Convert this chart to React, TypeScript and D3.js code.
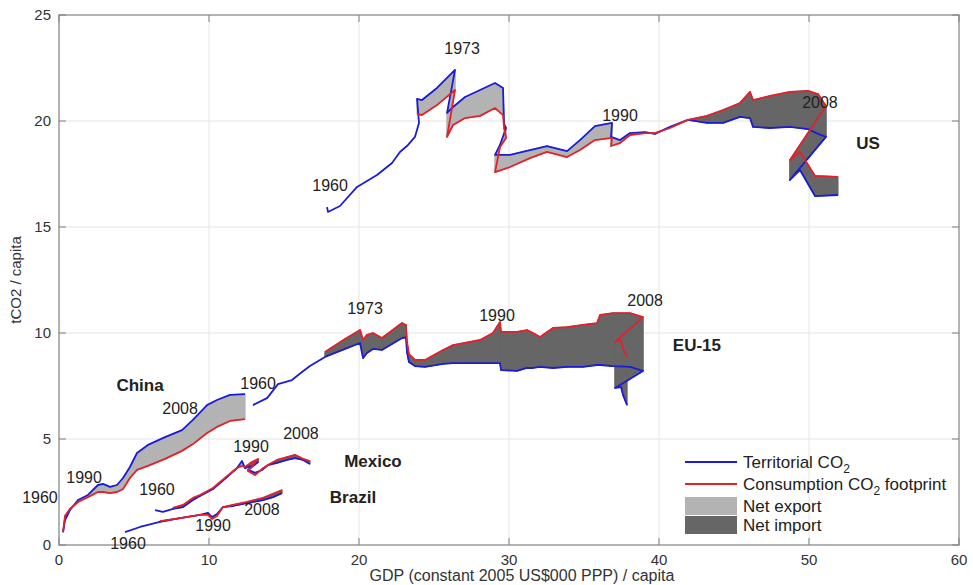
import React from 'react';
import * as d3 from 'd3';

// axis ticks
const xTicks = [0, 10, 20, 30, 40, 50, 60];
const yTicks = [0, 5, 10, 15, 20, 25];

// US: GDP (k$), territorial and consumption tCO2 per capita
const usGdp = [17.87, 17.93, 18.73, 19.87, 21.2, 22.2, 22.73, 23.27, 23.73, 24.0,
  23.87, 24.2, 25.2, 26.4, 25.87, 26.27, 27.07, 28.07, 29.07, 29.6, 29.67, 29.8, 29.4, 29.07, 30.07,
  31.4, 32.53, 33.87, 34.73, 35.73, 36.87, 36.8, 37.4, 38.07, 39.07, 39.73, 40.73, 41.93, 43.2, 44.27,
  45.4, 46.07, 46.27, 47.4, 48.73, 49.93, 50.6, 51.13, 48.73, 49.4, 50.4, 51.93];
const usTerr = [15.94, 15.71, 15.99, 16.89, 17.45, 18.02, 18.54, 18.87, 19.25, 19.91,
  21.04, 20.99, 21.56, 22.41, 20.38, 20.66, 21.13, 21.46, 21.79, 21.56, 19.86, 19.67, 18.87, 18.4, 18.4,
  18.63, 18.82, 18.58, 19.1, 19.76, 19.91, 19.25, 19.1, 19.43, 19.48, 19.39, 19.72, 20.05, 19.91, 19.91,
  20.19, 20.14, 19.72, 19.67, 19.72, 19.62, 19.39, 19.25, 17.22, 17.69, 16.46, 16.51];
const usCons = [null, null, null, null, null, null, null, null, null, null,
  20.33, 20.28, 20.75, 21.46, 19.25, 19.81, 20.14, 20.24, 20.61, 20.28, 19.67, 19.2, 18.77, 17.59, 17.83,
  18.25, 18.54, 18.3, 18.63, 19.1, 19.2, 18.82, 18.96, 19.34, 19.43, 19.43, 19.67, 20.05, 20.24, 20.52,
  20.85, 21.37, 20.99, 21.18, 21.37, 21.42, 21.27, 20.71, 18.16, 18.54, 17.41, 17.36];

// EU-15
const euGdp = [12.93, 13.87, 14.6, 15.53, 16.2, 16.73, 17.4,
  17.73, 19.07, 20.07, 20.27, 20.53, 20.93, 21.53, 22.87, 23.13, 23.2, 23.33, 23.73, 24.4, 25.6, 26.27,
  28.07, 28.93, 29.4, 29.47, 30.53, 31.2, 31.6, 32.07, 32.93, 33.87, 34.93, 35.87, 36.07, 36.93, 38.07,
  38.93, 37.07, 37.47, 37.6, 37.87];
const euTerr = [6.6, 6.93, 7.59, 7.78, 8.16, 8.44, 8.73,
  8.87, 9.25, 9.53, 8.82, 9.06, 9.25, 9.2, 9.76, 9.81, 9.1, 8.63, 8.44, 8.4, 8.54, 8.58,
  8.58, 8.58, 8.58, 8.25, 8.21, 8.35, 8.35, 8.4, 8.35, 8.4, 8.4, 8.49, 8.49, 8.44, 8.4,
  8.21, 7.41, 7.45, 7.08, 6.6];
const euCons = [null, null, null, null, null, null, null,
  9.1, 9.72, 10.14, 9.67, 9.91, 10.0, 9.76, 10.47, 10.38, 9.58, 9.0, 8.73, 8.73, 9.2, 9.43,
  9.67, 10.0, 10.52, 10.05, 10.05, 10.14, 10.0, 9.81, 10.24, 10.28, 10.38, 10.47, 10.85, 10.94, 10.94,
  10.75, 9.58, 9.67, 9.25, 8.87];

// China
const cnGdp = [0.27, 0.4, 0.73, 1.27, 1.93, 2.6, 2.93, 3.4, 3.87, 4.27, 4.73, 5.2, 5.93, 7.07, 8.2, 8.93, 9.87, 10.53, 11.4, 12.4];
const cnTerr = [0.61, 1.18, 1.65, 2.12, 2.36, 2.83, 2.88, 2.74, 2.83, 3.16, 3.68, 4.34, 4.72, 5.09, 5.42, 5.9, 6.6, 6.84, 7.08, 7.12];
const cnCons = [0.61, 1.37, 1.7, 2.03, 2.26, 2.5, 2.5, 2.45, 2.5, 2.64, 3.16, 3.54, 3.73, 4.06, 4.44, 4.76, 5.28, 5.57, 5.85, 5.94];

// Mexico
const mxGdp = [6.4, 6.93, 7.6, 8.27, 8.93, 9.4, 10.27, 11.2, 11.87, 12.2, 12.4, 12.87, 13.27, 12.6, 13.07, 13.53, 13.93, 14.53, 15.2, 15.73, 16.27, 16.73];
const mxTerr = [1.65, 1.56, 1.7, 1.79, 2.12, 2.31, 2.64, 3.21, 3.63, 3.96, 3.63, 3.73, 3.91, 3.54, 3.4, 3.54, 3.77, 3.87, 4.01, 4.1, 4.01, 3.82];
const mxCons = [null, null, 1.75, 1.89, 2.22, 2.36, 2.69, 3.25, 3.63, 3.73, 3.68, 3.91, 4.06, 3.49, 3.3, 3.58, 3.77, 4.01, 4.15, 4.25, 4.06, 3.96];

// Brazil
const brGdp = [4.4, 5.4, 6.73, 8.07, 9.4, 9.93, 10.2, 10.53, 10.93, 11.6, 12.53, 13.6, 14.27, 14.87];
const brTerr = [0.61, 0.85, 1.09, 1.27, 1.42, 1.51, 1.32, 1.46, 1.79, 1.84, 1.98, 2.12, 2.26, 2.45];
const brCons = [null, null, 1.13, 1.27, 1.42, 1.42, 1.23, 1.37, 1.79, 1.89, 2.03, 2.22, 2.41, 2.59];

// annotations: [text, gdp, tCO2, bold]
const labels: [string, number, number, boolean][] = [
  ['1960', 18.07, 16.98, false], ['1973', 26.87, 23.44, false], ['1990', 37.4, 20.28, false],
  ['2008', 50.73, 20.9, false], ['US', 53.93, 18.96, true],
  ['1960', 13.27, 7.64, false], ['1973', 20.4, 11.18, false], ['1990', 29.2, 10.85, false],
  ['2008', 39.07, 11.56, false], ['EU-15', 42.53, 9.43, true],
  ['China', 5.4, 7.55, true], ['2008', 8.07, 6.42, false], ['1990', 1.67, 3.21, false], ['1960', -1.27, 2.26, false],
  ['1990', 12.8, 4.67, false], ['2008', 16.13, 5.28, false], ['Mexico', 20.93, 3.96, true], ['1960', 6.53, 2.64, false],
  ['2008', 13.53, 1.7, false], ['1990', 10.27, 0.94, false], ['Brazil', 19.6, 2.26, true], ['1960', 4.6, 0.09, false],
];

const BLUE = '#1c1cd6';
const RED = '#e3212b';
const EXPORT = '#b3b3b3';
const IMPORT = '#666666';
const FONT = 'Liberation Sans, Arial, sans-serif';

type Pt = { g: number; t: number; c: number | null };

const build = (g: number[], t: number[], c: (number | null)[]): Pt[] =>
  g.map((v, i) => ({ g: v, t: t[i], c: c[i] }));

const countries = [
  build(usGdp, usTerr, usCons),
  build(euGdp, euTerr, euCons),
  build(cnGdp, cnTerr, cnCons),
  build(mxGdp, mxTerr, mxCons),
  build(brGdp, brTerr, brCons),
];

// split the area between the two curves into per-year bands
function bands(pts: Pt[]) {
  const out: { p: [number, number][]; exp: boolean }[] = [];
  for (let i = 0; i < pts.length - 1; i++) {
    const a = pts[i], b = pts[i + 1];
    if (a.c == null || b.c == null) continue;
    const da = a.t - a.c, db = b.t - b.c;
    if (da * db < 0) {
      const f = da / (da - db);
      const pg = a.g + f * (b.g - a.g), pv = a.t + f * (b.t - a.t);
      out.push({ p: [[a.g, a.t], [pg, pv], [a.g, a.c]], exp: da > 0 });
      out.push({ p: [[pg, pv], [b.g, b.t], [b.g, b.c]], exp: db > 0 });
    } else {
      out.push({ p: [[a.g, a.t], [b.g, b.t], [b.g, b.c], [a.g, a.c]], exp: da + db > 0 });
    }
  }
  return out;
}

const App = () => {
  const x = d3.scaleLinear().domain([0, 60]).range([59, 959]);
  const y = d3.scaleLinear().domain([0, 25]).range([545, 15]);

  const terrLine = d3.line<Pt>().x(d => x(d.g)).y(d => y(d.t));
  const consLine = d3.line<Pt>().defined(d => d.c != null).x(d => x(d.g)).y(d => y(d.c as number));
  const poly = (p: [number, number][]) => 'M' + p.map(([g, v]) => `${x(g)},${y(v)}`).join('L') + 'Z';

  const [x0, x1] = x.range();
  const [y0, y1] = y.range();

  return (
    <svg width={973} height={585} style={{ position: 'absolute', left: 0, top: 0 }} fontFamily={FONT}>
      <rect width={973} height={585} fill="white" />
      {/* grid */}
      {xTicks.slice(1, -1).map(t => (
        <line key={'gx' + t} x1={x(t)} x2={x(t)} y1={y1} y2={y0} stroke="#e4e4e4" />
      ))}
      {yTicks.slice(1, -1).map(t => (
        <line key={'gy' + t} x1={x0} x2={x1} y1={y(t)} y2={y(t)} stroke="#e4e4e4" />
      ))}

      {/* fills */}
      {countries.map((pts, ci) =>
        bands(pts).map((b, i) => (
          <path key={`f${ci}-${i}`} d={poly(b.p)} fill={b.exp ? EXPORT : IMPORT}
            stroke={b.exp ? EXPORT : IMPORT} strokeWidth={1.2} strokeLinejoin="round" />
        ))
      )}
      {/* lines */}
      {countries.map((pts, ci) => (
        <path key={'t' + ci} d={terrLine(pts) || ''} fill="none" stroke={BLUE} strokeWidth={1.8} strokeLinejoin="round" />
      ))}
      {countries.map((pts, ci) => (
        <path key={'c' + ci} d={consLine(pts) || ''} fill="none" stroke={RED} strokeWidth={1.8} strokeLinejoin="round" />
      ))}

      {/* axes box and ticks */}
      <rect x={x0} y={y1} width={x1 - x0} height={y0 - y1} fill="none" stroke="#808080" strokeWidth={1.2} />
      {xTicks.map(t => (
        <g key={'tx' + t}>
          <line x1={x(t)} x2={x(t)} y1={y0} y2={y0 - 7} stroke="#808080" />
          <line x1={x(t)} x2={x(t)} y1={y1} y2={y1 + 7} stroke="#808080" />
          <text x={x(t)} y={y0 + 20} textAnchor="middle" fontSize={15} fill="#333">{t}</text>
        </g>
      ))}
      {yTicks.map(t => (
        <g key={'ty' + t}>
          <line x1={x0} x2={x0 + 7} y1={y(t)} y2={y(t)} stroke="#808080" />
          <line x1={x1} x2={x1 - 7} y1={y(t)} y2={y(t)} stroke="#808080" />
          <text x={x0 - 8} y={y(t)} dy="0.35em" textAnchor="end" fontSize={15} fill="#333">{t}</text>
        </g>
      ))}
      <text x={522} y={581} textAnchor="middle" fontSize={16} fill="#333">
        GDP (constant 2005 US$000 PPP) / capita
      </text>
      <text transform={`translate(21,${(y0 + y1) / 2}) rotate(-90)`} textAnchor="middle" fontSize={15} fill="#333">
        tCO2 / capita
      </text>

      {/* annotations */}
      {labels.map(([s, g, v, bold], i) => (
        <text key={'l' + i} x={x(g)} y={y(v)} dy="0.35em" textAnchor="middle" fontSize={bold ? 17 : 16}
          fontWeight={bold ? 'bold' : 'normal'} fill="#222">{s}</text>
      ))}

      {/* legend */}
      <g fontSize={17} fill="#222">
        <line x1={685} x2={737} y1={462} y2={462} stroke={BLUE} strokeWidth={1.8} />
        <text x={743} y={468}>Territorial CO<tspan fontSize={12} dy={5}>2</tspan></text>
        <line x1={685} x2={737} y1={484} y2={484} stroke={RED} strokeWidth={1.8} />
        <text x={743} y={490}>Consumption CO<tspan fontSize={12} dy={5}>2</tspan><tspan dy={-5}> footprint</tspan></text>
        <rect x={685} y={497} width={52} height={18} fill={EXPORT} />
        <text x={743} y={512}>Net export</text>
        <rect x={685} y={516} width={52} height={18} fill={IMPORT} />
        <text x={743} y={531}>Net import</text>
      </g>
    </svg>
  );
};

export default App;
